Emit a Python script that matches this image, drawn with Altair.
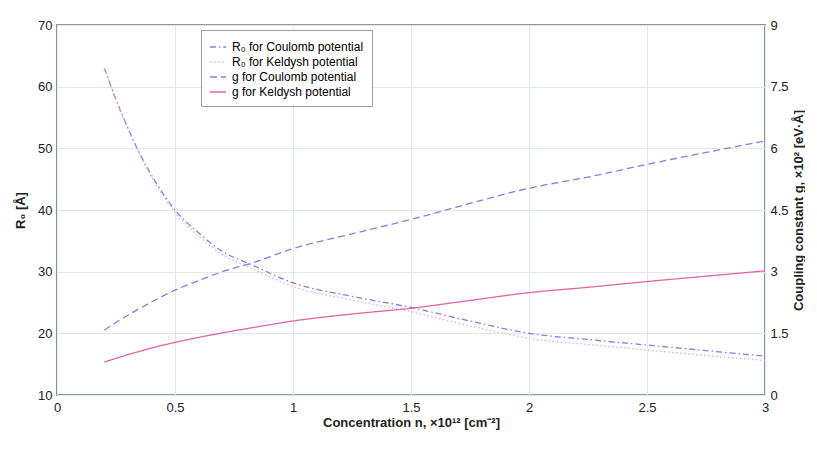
import altair as alt
import pandas as pd

n_R = [0.2, 0.28, 0.35, 0.42, 0.5, 0.6, 0.7, 0.82, 1.0, 1.25, 1.5, 1.75, 2.0, 2.25, 2.5, 2.75, 3.0]
R0_coulomb = [63.0, 55.1, 49.2, 44.4, 40.0, 36.3, 33.3, 31.2, 28.2, 26.0, 24.2, 22.0, 20.0, 19.0, 18.1, 17.2, 16.3]
R0_keldysh = [63.0, 55.0, 49.0, 44.1, 39.6, 35.8, 32.8, 30.6, 27.6, 25.4, 23.5, 21.2, 19.2, 18.2, 17.3, 16.4, 15.6]

n_g = [0.2, 0.3, 0.4, 0.5, 0.6, 0.7, 0.82, 1.0, 1.25, 1.5, 1.75, 2.0, 2.25, 2.5, 2.75, 3.0]
g_coulomb = [1.58, 1.94, 2.26, 2.55, 2.78, 3.00, 3.20, 3.56, 3.92, 4.27, 4.66, 5.03, 5.30, 5.61, 5.90, 6.18]
g_keldysh = [0.80, 0.98, 1.14, 1.28, 1.40, 1.51, 1.63, 1.80, 1.97, 2.11, 2.30, 2.49, 2.62, 2.76, 2.89, 3.02]

series = ["R₀ for Coulomb potential", "R₀ for Keldysh potential",
          "g for Coulomb potential", "g for Keldysh potential"]
colors = ["#7f7ff0", "#f0a8d0", "#7f7ff0", "#e0689a"]
dashes = [[6, 3, 1.5, 3], [1.5, 2.5], [7, 4], [1, 0]]

dfR = pd.DataFrame(
    [{"n": n, "v": v, "s": series[0]} for n, v in zip(n_R, R0_coulomb)]
    + [{"n": n, "v": v, "s": series[1]} for n, v in zip(n_R, R0_keldysh)]
)
dfG = pd.DataFrame(
    [{"n": n, "v": v, "s": series[2]} for n, v in zip(n_g, g_coulomb)]
    + [{"n": n, "v": v, "s": series[3]} for n, v in zip(n_g, g_keldysh)]
)

xenc = alt.X("n:Q", scale=alt.Scale(domain=[0, 3], nice=False),
             axis=alt.Axis(values=[0, 0.5, 1, 1.5, 2, 2.5, 3], labelExpr="'' + datum.value",
                           labelFlush=False,
                           title="Concentration  n,  ×10¹²  [cm⁻²]"))
color = alt.Color("s:N", scale=alt.Scale(domain=series, range=colors),
                  legend=alt.Legend(title=None, orient="none", legendX=144, legendY=5,
                                    symbolType="stroke", symbolSize=260, symbolStrokeWidth=1.5,
                                    labelFontSize=12, labelFont="Liberation Sans",
                                    rowPadding=0, padding=8, labelOffset=5,
                                    strokeColor="#9aa0a0", fillColor="white"))
dash = alt.StrokeDash("s:N", scale=alt.Scale(domain=series, range=dashes), legend=None)

left = alt.Chart(dfR).mark_line(strokeWidth=1.3, interpolate="monotone").encode(
    x=xenc,
    y=alt.Y("v:Q", scale=alt.Scale(domain=[10, 70], nice=False),
            axis=alt.Axis(values=[10, 20, 30, 40, 50, 60, 70], labelExpr="'' + datum.value",
                          labelFlush=False, title="R₀  [Å]", orient="left", grid=True)),
    color=color, strokeDash=dash, detail="s:N")

right = alt.Chart(dfG).mark_line(strokeWidth=1.3, interpolate="monotone").encode(
    x=xenc,
    y=alt.Y("v:Q", scale=alt.Scale(domain=[0, 9], nice=False),
            axis=alt.Axis(values=[0, 1.5, 3, 4.5, 6, 7.5, 9], labelExpr="'' + datum.value",
                          labelFlush=False,
                          title="Coupling constant g,  ×10²  [eV·Å]",
                          orient="right", grid=False, titleAngle=270, titleBaseline="middle")),
    color=color, strokeDash=dash, detail="s:N")

chart = alt.layer(left, right).resolve_scale(y="independent").properties(
    width=708, height=370,
    autosize=alt.AutoSizeParams(type="none"),
    padding={"left": 49, "top": 17, "right": 40, "bottom": 50},
).configure_view(stroke="#8c9797", strokeWidth=2).configure_axis(
    domain=False, ticks=False, gridColor="#e3e8e8", gridWidth=1,
    labelFont="Liberation Sans", labelFontSize=13, labelColor="#222",
    titleFont="Liberation Sans", titleFontSize=13, titleFontWeight="bold", titleColor="#222",
    labelPadding=5,
).configure_axisLeft(titlePadding=10).configure_axisRight(titlePadding=10).configure_axisBottom(
    titlePadding=2, labelPadding=6)

chart.save("out.html", embed_options={"renderer": "svg", "actions": False})
